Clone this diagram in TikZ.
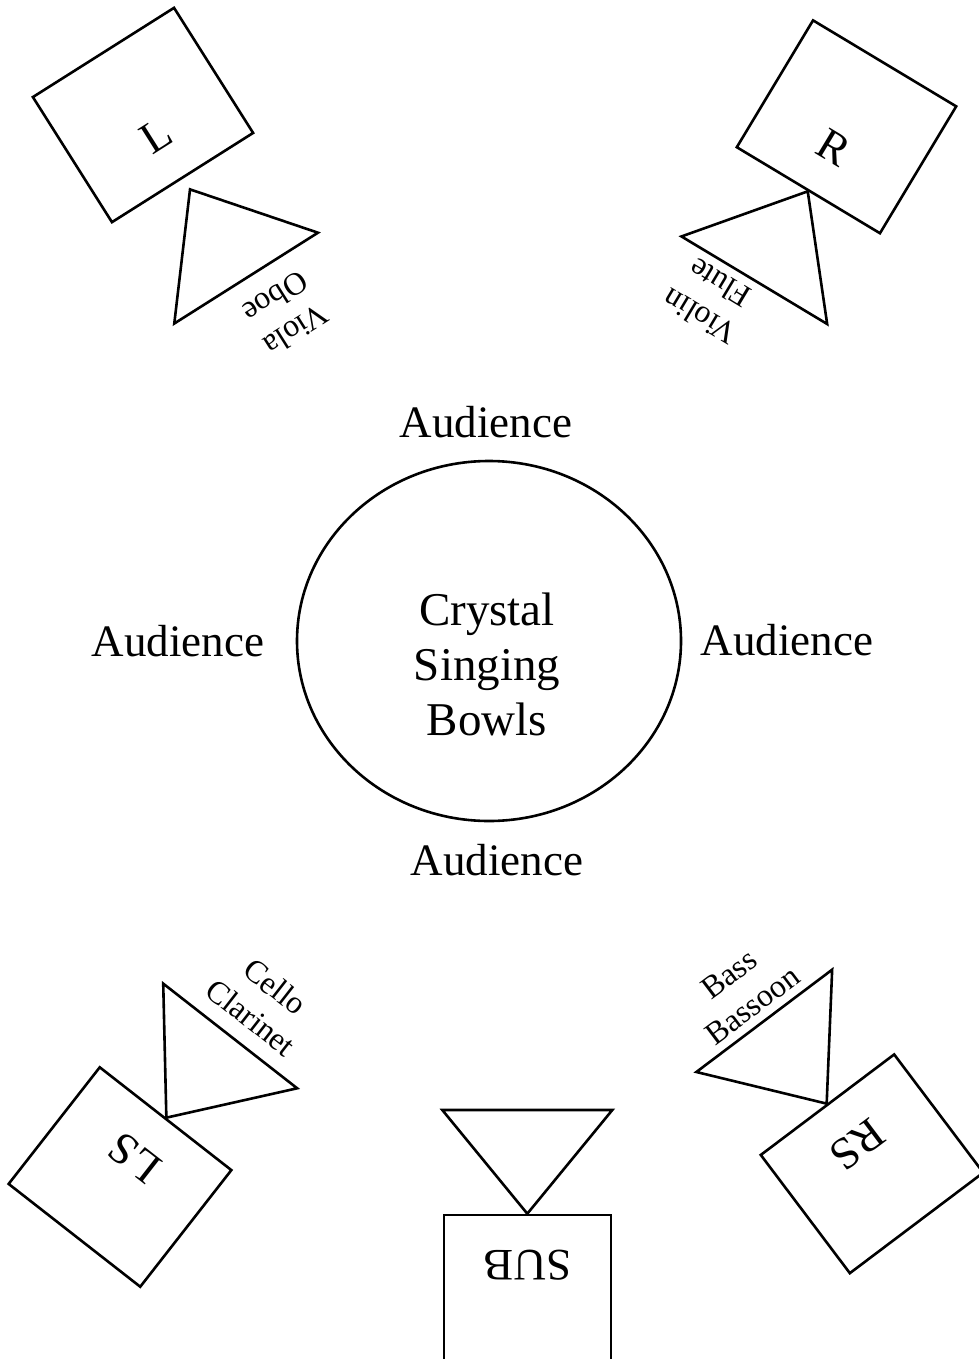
\documentclass[tikz,border=0pt]{standalone}
\usepackage{fontspec}
\setmainfont{Liberation Serif}
\usetikzlibrary{shapes.geometric}
\begin{document}
\begin{tikzpicture}[x=1pt,y=1pt,
  line width=2.6pt,
  big/.style={font=\fontsize{45}{55}\selectfont, inner sep=0pt},
  lbl/.style={font=\fontsize{32}{39}\selectfont, align=center, inner sep=0pt},
  spkbox/.style={draw, rectangle, minimum width=167pt, minimum height=148pt, inner sep=0pt},
  cone/.style={draw, line join=miter}]
\useasboundingbox (0,-1359) rectangle (979,0);
\clip (0,-1359) rectangle (979,0);
\fill[white] (0,-1359) rectangle (979,0);

% centre
\node[draw, ellipse, minimum width=384pt, minimum height=360pt, inner sep=0pt] (bowl) at (489,-641) {};
\node[font=\fontsize{47}{55}\selectfont, inner sep=0pt, align=center] (bowltext) at (487,-664) {Crystal\\Singing\\Bowls};
\node[big, anchor=base] (audN) at (486,-437) {Audience};
\node[big, anchor=base] (audW) at (178,-656.7) {Audience};
\node[big, anchor=base] (audE) at (787,-655.7) {Audience};
\node[big, anchor=base] (audS) at (497,-875) {Audience};

% L
\begin{scope}[shift={(143,-115)}, rotate=32.3, transform shape]
  \node[spkbox] (Lbox) at (0,0) {};
  \node[big] (Ltext) at (0,-24) {L};
  \coordinate (Lapex) at (0,-88);
  \coordinate (Lb1) at (85,-193);
  \coordinate (Lb2) at (-85,-193);
  \draw[cone] (Lapex) -- (Lb1) -- (Lb2) -- cycle;
  \node[lbl, rotate=180] (Llabel) at (14.5,-244.7) {Viola\\Oboe};
\end{scope}

% R
\begin{scope}[shift={(846.5,-126.8)}, rotate=-31, transform shape]
  \node[spkbox] (Rbox) at (0,0) {};
  \node[big] (Rtext) at (0,-24) {R};
  \coordinate (Rapex) at (Rbox.south);
  \coordinate (Rb1) at (85,-179);
  \coordinate (Rb2) at (-85,-179);
  \draw[cone] (Rapex) -- (Rb1) -- (Rb2) -- cycle;
  \node[lbl, rotate=180] (Rlabel) at (-28,-219) {Violin\\Flute};
\end{scope}

% LS
\begin{scope}[shift={(120,-1177)}, rotate=142, transform shape]
  \node[spkbox] (LSbox) at (0,0) {};
  \node[big] (LStext) at (0,-24) {LS};
  \coordinate (LSapex) at (LSbox.south);
  \coordinate (LSb1) at (85,-179);
  \coordinate (LSb2) at (-85,-179);
  \draw[cone] (LSapex) -- (LSb1) -- (LSb2) -- cycle;
  \node[lbl, rotate=180] (LSlabel) at (-5,-226) {Cello\\Clarinet};
\end{scope}

% RS
\begin{scope}[shift={(872,-1163.8)}, rotate=217, transform shape]
  \node[spkbox] (RSbox) at (0,0) {};
  \node[big] (RStext) at (0,-24) {RS};
  \coordinate (RSapex) at (RSbox.south);
  \coordinate (RSb1) at (85,-179);
  \coordinate (RSb2) at (-85,-179);
  \draw[cone] (RSapex) -- (RSb1) -- (RSb2) -- cycle;
  \node[lbl, rotate=180] (RSlabel) at (0,-218) {Bass\\Bassoon};
\end{scope}

% SUB
\begin{scope}[shift={(527.3,-1289)}, rotate=180, transform shape]
  \node[spkbox] (SUBbox) at (0,0) {};
  \node[big] (SUBtext) at (0,-24) {SUB};
  \coordinate (SUBapex) at (SUBbox.south);
  \coordinate (SUBb1) at (85,-179);
  \coordinate (SUBb2) at (-85,-179);
  \draw[cone] (SUBapex) -- (SUBb1) -- (SUBb2) -- cycle;
\end{scope}
\end{tikzpicture}
\end{document}
